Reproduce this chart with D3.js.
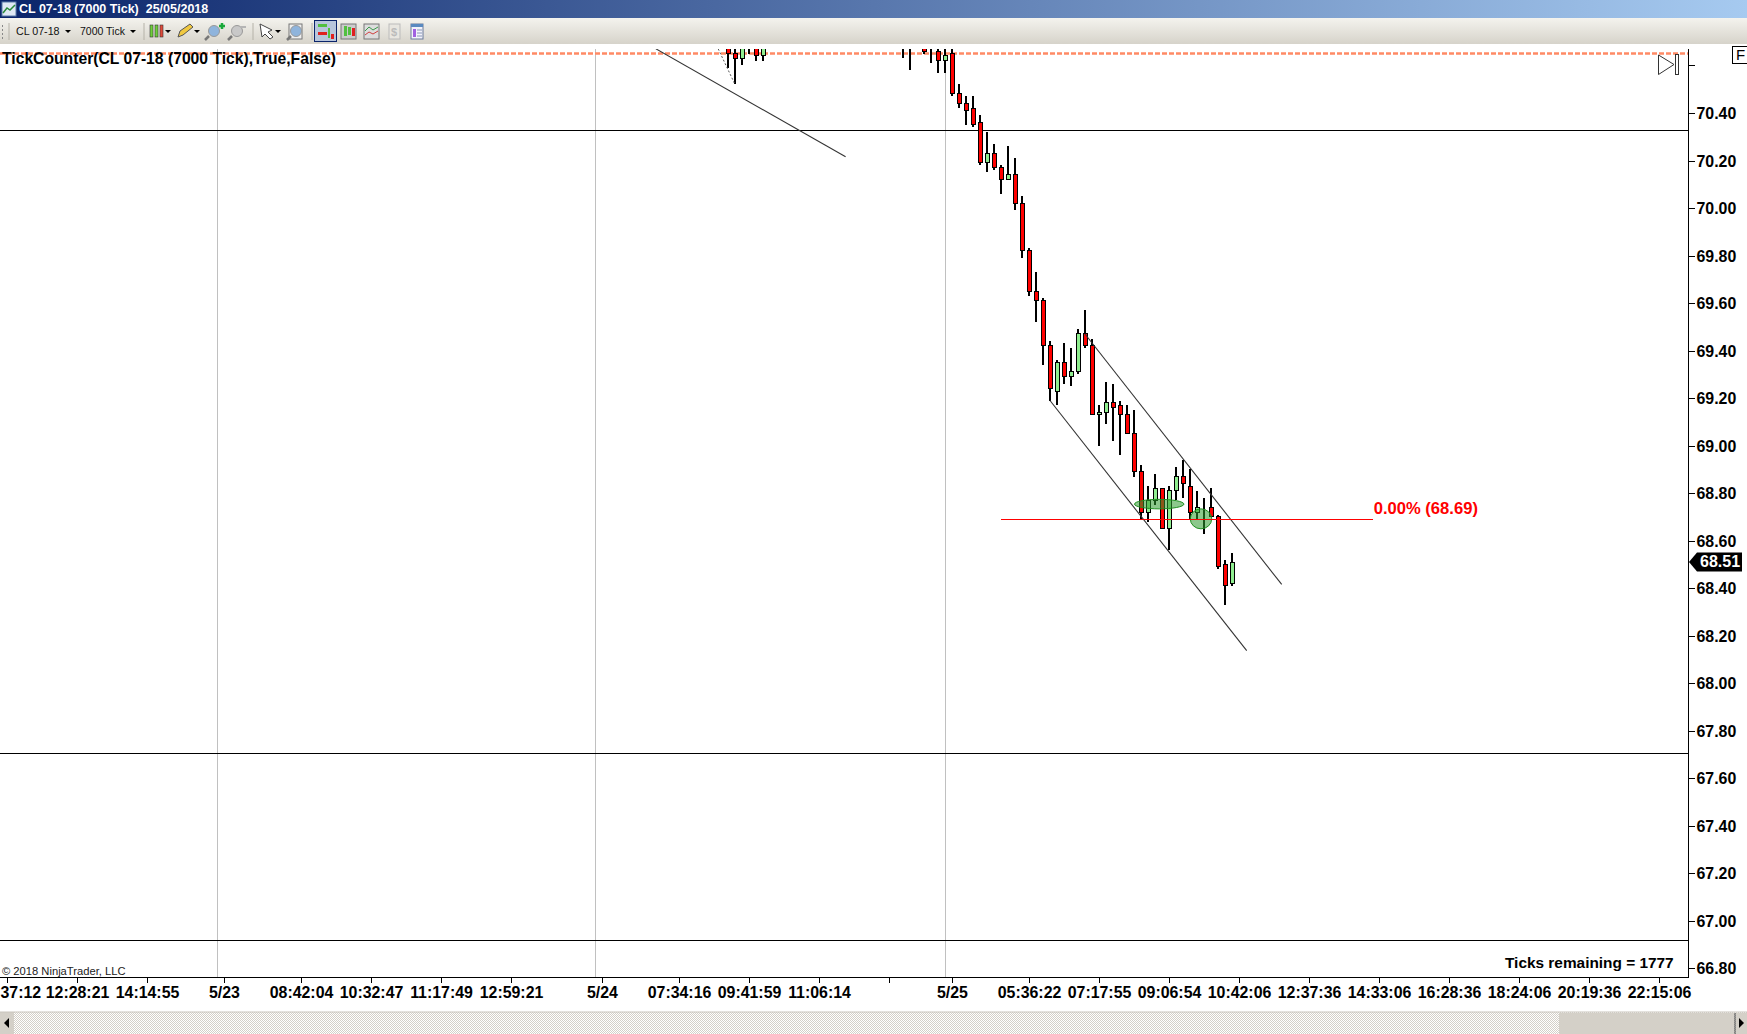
<!DOCTYPE html>
<html>
<head>
<meta charset="utf-8">
<title>CL 07-18 (7000 Tick)</title>
<script src="https://cdn.jsdelivr.net/npm/d3@7"></script>
<style>
  html, body { margin: 0; padding: 0; background: #fff; overflow: hidden; }
  svg { display: block; }
  text { font-family: "Liberation Sans", Arial, sans-serif; }
</style>
</head>
<body>
<svg id="chart" width="1747" height="1034"></svg>
<script>
// bar slot on the time axis, then o/h/l/c
const barSlots = [103,104,105,106,107,108,128,129,131,132,133,134,135,136,137,138,139,140,141,142,143,144,145,146,147,148,149,150,151,152,153,154,155,156,157,158,159,160,161,162,163,164,165,166,167,168,169,170,171,172,173,174,175];
const opens  = [70.69,70.65,70.63,70.71,70.69,70.64,70.72,70.71,70.69,70.66,70.66,70.62,70.65,70.48,70.44,70.42,70.36,70.19,70.23,70.17,70.12,70.14,70.02,69.82,69.65,69.61,69.42,69.23,69.35,69.29,69.31,69.47,69.42,69.13,69.14,69.18,69.17,69.13,69.05,68.89,68.72,68.77,68.82,68.65,68.81,68.87,68.83,68.72,68.74,68.74,68.70,68.50,68.42];
const highs  = [70.72,70.72,70.72,70.72,70.72,70.72,70.74,70.73,70.70,70.72,70.72,70.72,70.70,70.52,70.47,70.47,70.39,70.32,70.27,70.18,70.26,70.21,70.05,69.83,69.73,69.62,69.44,69.36,69.43,69.41,69.49,69.57,69.45,69.17,69.27,69.26,69.19,69.17,69.15,68.92,68.83,68.88,68.82,68.83,68.91,68.94,68.90,68.81,68.78,68.82,68.71,68.52,68.55];
const lows   = [70.59,70.52,70.60,70.65,70.62,70.62,70.63,70.58,70.65,70.61,70.57,70.57,70.47,70.42,70.35,70.34,70.18,70.15,70.16,70.06,70.12,69.99,69.79,69.63,69.52,69.34,69.19,69.17,69.26,69.25,69.30,69.41,69.13,69.00,69.09,69.02,68.96,69.05,68.87,68.69,68.68,68.75,68.65,68.56,68.77,68.78,68.69,68.69,68.63,68.70,68.48,68.33,68.41];
const closes = [70.65,70.63,70.70,70.70,70.64,70.69,70.71,70.70,70.66,70.66,70.62,70.64,70.48,70.44,70.41,70.35,70.19,70.23,70.17,70.12,70.14,70.02,69.82,69.65,69.61,69.42,69.24,69.35,69.29,69.31,69.47,69.42,69.13,69.14,69.18,69.16,69.13,69.05,68.89,68.72,68.77,68.82,68.65,68.81,68.87,68.84,68.72,68.74,68.74,68.70,68.49,68.41,68.51];

const priceTicks = [70.60,70.40,70.20,70.00,69.80,69.60,69.40,69.20,69.00,68.80,68.60,68.40,68.20,68.00,67.80,67.60,67.40,67.20,67.00,66.80];
const timeSlots  = [0,10,20,31,42,52,62,72,85,96,106,116,126,135,146,156,166,176,186,196,206,216,226,236];
const timeLabels = ["37:12","12:28:21","14:14:55","5/23","08:42:04","10:32:47","11:17:49","12:59:21","5/24","07:34:16","09:41:59","11:06:14","","5/25","05:36:22","07:17:55","09:06:54","10:42:06","12:37:36","14:33:06","16:28:36","18:24:06","20:19:36","22:15:06"];

const sessionSlots = [30.1,84,134];
const levelPrices = [70.325,67.705,66.917];
const stopLevel = 70.65;
const lastPrice = 68.51;
const fibPrice = 68.69;
const fibSlots = [142,195.1];
// [slot1, price1, slot2, price2]
const trendLines = [[92.7,70.67,119.8,70.216],[154,69.47,182.1,68.416],[149,69.19,177.1,68.137]];
const dottedLine = [101.6,70.67,104,70.52];
// [slot, price, radius in slots, radius in price]
const zones = [[164.6,68.754,3.53,0.02],[170.57,68.692,1.53,0.042]];

const plotTop = 49, plotBottom = 977, plotRight = 1688.5;

var svg = d3.select("#chart");
var defs = svg.append("defs");

var scX = d3.scaleLinear().domain([0,240]).range([7,1687]);
var scY = d3.scaleLinear().domain([70.40,66.80]).range([113,968.4]);

defs.append("clipPath").attr("id","plotClip").append("rect")
    .attr("x",0).attr("y",plotTop).attr("width",plotRight).attr("height",plotBottom-plotTop);

var titleGrad = defs.append("linearGradient").attr("id","titleGrad");
titleGrad.append("stop").attr("offset","0%").attr("stop-color","#0a246a");
titleGrad.append("stop").attr("offset","100%").attr("stop-color","#a6caf0");

var barGrad = defs.append("linearGradient").attr("id","barGrad").attr("x2",0).attr("y2",1);
barGrad.append("stop").attr("offset","0%").attr("stop-color","#f4f3ee");
barGrad.append("stop").attr("offset","100%").attr("stop-color","#d6d3ca");

var dither = defs.append("pattern").attr("id","dither").attr("width",2).attr("height",2)
    .attr("patternUnits","userSpaceOnUse");
dither.append("rect").attr("width",2).attr("height",2).attr("fill","#ffffff");
dither.append("rect").attr("width",1).attr("height",1).attr("fill","#d4d0c8");
dither.append("rect").attr("x",1).attr("y",1).attr("width",1).attr("height",1).attr("fill","#d4d0c8");

svg.append("rect").attr("width",1747).attr("height",1034).attr("fill","#fff");

// --- window chrome
makeChrome();
function makeChrome() {
    svg.append("rect").attr("width",1747).attr("height",18).attr("fill","url(#titleGrad)");
    svg.append("rect").attr("y",18).attr("width",1747).attr("height",26).attr("fill","url(#barGrad)");

    var ic = svg.append("g").attr("transform","translate(2,2)");
    ic.append("rect").attr("width",14).attr("height",14).attr("fill","#dfe8f4").attr("stroke","#5a7aa8");
    ic.append("path").attr("d","M1,11 L5,6 L8,8 L13,3").attr("fill","none").attr("stroke","#2a8a3a").attr("stroke-width",1.5);

    svg.append("text").attr("x",19).attr("y",13).attr("fill","#fff")
       .style("font-weight","bold").style("font-size","12.5px")
       .attr("xml:space","preserve").text("CL 07-18 (7000 Tick)  25/05/2018");

    svg.append("text").attr("x",16).attr("y",35).attr("fill","#111").style("font-size","10.7px").text("CL 07-18");
    svg.append("text").attr("x",80).attr("y",35).attr("fill","#111").style("font-size","10.5px").text("7000 Tick");

    var carets = [68,133,168,197,278];
    svg.selectAll("path.caret").data(carets).enter().append("path").attr("class","caret")
       .attr("d",d=>`M${d-3},30 h6 l-3,3 z`).attr("fill","#000");

    var seps = [9,144,253,312];
    svg.selectAll("line.sep").data(seps).enter().append("line").attr("class","sep")
       .attr("x1",d=>d).attr("x2",d=>d).attr("y1",23).attr("y2",40).attr("stroke","#b5b2a8");

    // grip
    svg.selectAll("rect.grip").data([25,29,33,37]).enter().append("rect").attr("class","grip")
       .attr("x",2).attr("y",d=>d).attr("width",1).attr("height",2).attr("fill","#888");

    // candle icon
    [[151.5,"#6ecf3a"],[156.5,"#6ecf3a"],[161.5,"#e04a3a"]].forEach(function(c) {
        svg.append("rect").attr("x",c[0]-1.5).attr("y",25).attr("width",3).attr("height",12)
           .attr("fill",c[1]).attr("stroke","#333").attr("stroke-width",0.6);
    });
    // pencil
    svg.append("path").attr("d","M178,37 L180,31 L190,24 L193,27 L183,35 Z").attr("fill","#f0c840").attr("stroke","#555");
    // magnifiers
    magnifier(214,31,"#8fb4dc"); magnifier(237,31,"#c8c8c8");
    svg.append("path").attr("d","M219,26 h6 M222,23 v6").attr("stroke","#1aa83a").attr("stroke-width",2.5);
    svg.append("path").attr("d","M240,27 h6").attr("stroke","#b5b5b5").attr("stroke-width",2);
    // arrow
    svg.append("path").attr("d","M260,24 L272,30 L268,32 L273,37 L270,39 L265,34 L262,37 Z").attr("fill","#fff").attr("stroke","#444");
    svg.append("rect").attr("x",289).attr("y",24).attr("width",13).attr("height",15).attr("fill","#eee").attr("stroke","#777");
    magnifier(296,31,"#8fb4dc");

    // active button and chart style buttons
    svg.append("rect").attr("x",314.5).attr("y",20.5).attr("width",22).attr("height",21).attr("fill","#b8c6dc").attr("stroke","#0a246a");
    svg.append("rect").attr("x",318).attr("y",24).attr("width",9).attr("height",3).attr("fill","#52c040");
    svg.append("rect").attr("x",318).attr("y",32).attr("width",9).attr("height",3).attr("fill","#e02020");
    svg.append("rect").attr("x",328).attr("y",28).attr("width",2).attr("height",10).attr("fill","#52c040");
    svg.append("rect").attr("x",331).attr("y",34).attr("width",3).attr("height",5).attr("fill","#e02020");

    svg.append("rect").attr("x",341).attr("y",24).attr("width",15).attr("height",15).attr("fill","#ccc").attr("stroke","#777");
    [[345,"#52c040",26,10],[349,"#52c040",27,8],[353,"#e02020",28,8]].forEach(function(c) {
        svg.append("rect").attr("x",c[0]-1).attr("y",c[2]).attr("width",3).attr("height",c[3]).attr("fill",c[1]);
    });
    svg.append("rect").attr("x",364).attr("y",24).attr("width",15).attr("height",15).attr("fill","#ddd").attr("stroke","#777");
    svg.append("path").attr("d","M365,31 L369,27 L373,30 L378,27").attr("fill","none").attr("stroke","#3a9a4a");
    svg.append("path").attr("d","M365,35 L369,32 L373,34 L378,31").attr("fill","none").attr("stroke","#d04040");
    svg.append("rect").attr("x",389).attr("y",24).attr("width",11).attr("height",15).attr("fill","#e8e6e0").attr("stroke","#bbb");
    svg.append("text").attr("x",391).attr("y",36).attr("fill","#bbb").style("font-size","11px").style("font-weight","bold").text("$");
    svg.append("rect").attr("x",411).attr("y",24).attr("width",12).attr("height",15).attr("fill","#f2f2fa").attr("stroke","#6a7a9a");
    svg.append("rect").attr("x",411).attr("y",24).attr("width",12).attr("height",3).attr("fill","#5a8ac0");
    svg.append("rect").attr("x",413).attr("y",29).attr("width",3).attr("height",8).attr("fill","#a060e0");
    svg.append("path").attr("d","M417,30 h5 M417,33 h5 M417,36 h5").attr("stroke","#8898b8");

    // scrollbar
    svg.append("rect").attr("y",1012).attr("width",1747).attr("height",22).attr("fill","url(#dither)");
    svg.append("rect").attr("y",1012).attr("width",14).attr("height",22).attr("fill","#d4d0c8");
    svg.append("rect").attr("x",1559).attr("y",1013).attr("width",175).attr("height",21).attr("fill","#d4d0c8");
    svg.append("rect").attr("x",1736).attr("y",1013).attr("width",11).attr("height",21).attr("fill","#d4d0c8");
    svg.append("line").attr("x1",1735).attr("x2",1735).attr("y1",1013).attr("y2",1034).attr("stroke","#333");
    svg.append("line").attr("x1",0).attr("x2",1747).attr("y1",1012).attr("y2",1012).attr("stroke","#c8c4bc");
    svg.append("path").attr("d","M4,1023 l5,-5 v10 z").attr("fill","#000");
    svg.append("path").attr("d","M1744,1023 l-5,-5 v10 z").attr("fill","#000");
}
function magnifier(x, y, col) {
    svg.append("line").attr("x1",x-5).attr("y1",y+5).attr("x2",x-9).attr("y2",y+9).attr("stroke","#777").attr("stroke-width",2.5);
    svg.append("circle").attr("cx",x).attr("cy",y).attr("r",5.5).attr("fill",col).attr("stroke","#999");
}

// --- grid and levels
svg.selectAll("line.session").data(sessionSlots).enter().append("line").attr("class","session")
   .attr("x1",d=>scX(d)).attr("x2",d=>scX(d)).attr("y1",plotTop).attr("y2",plotBottom)
   .attr("stroke","#c0c0c0").attr("shape-rendering","crispEdges");

var plot = svg.append("g").attr("clip-path","url(#plotClip)");

plot.append("line").attr("x1",0).attr("x2",plotRight).attr("y1",scY(stopLevel)).attr("y2",scY(stopLevel))
    .attr("stroke","#ff8a65").attr("stroke-width",2.5).attr("stroke-dasharray","5,2");

plot.selectAll("line.level").data(levelPrices).enter().append("line").attr("class","level")
    .attr("x1",0).attr("x2",plotRight).attr("y1",d=>scY(d)).attr("y2",d=>scY(d))
    .attr("stroke","#000").attr("shape-rendering","crispEdges");

// --- candles
var bars = d3.range(barSlots.length);
plot.selectAll("line.wick").data(bars).enter().append("line").attr("class","wick")
    .attr("x1",i=>scX(barSlots[i])).attr("x2",i=>scX(barSlots[i]))
    .attr("y1",i=>scY(highs[i])).attr("y2",i=>scY(lows[i]))
    .attr("stroke","#000").attr("stroke-width",2).attr("shape-rendering","crispEdges");

plot.selectAll("rect.body").data(bars).enter().append("rect").attr("class","body")
    .attr("x",i=>scX(barSlots[i])-1.5).attr("width",4)
    .attr("y",i=>scY(Math.max(opens[i],closes[i])))
    .attr("height",i=>Math.abs(scY(opens[i])-scY(closes[i])))
    .attr("fill",i=>closes[i]<opens[i] ? "#ff0000" : "#90ee90")
    .attr("stroke","#000").attr("shape-rendering","crispEdges");

// --- drawing objects
plot.selectAll("line.trend").data(trendLines).enter().append("line").attr("class","trend")
    .attr("x1",d=>scX(d[0])).attr("y1",d=>scY(d[1])).attr("x2",d=>scX(d[2])).attr("y2",d=>scY(d[3]))
    .attr("stroke","#333").attr("stroke-width",1.1);

plot.append("line")
    .attr("x1",scX(dottedLine[0])).attr("y1",scY(dottedLine[1])).attr("x2",scX(dottedLine[2])).attr("y2",scY(dottedLine[3]))
    .attr("stroke","#555").attr("stroke-dasharray","2,2");

plot.selectAll("ellipse").data(zones).enter().append("ellipse")
    .attr("cx",d=>scX(d[0])).attr("cy",d=>scY(d[1]))
    .attr("rx",d=>scX(d[2])-scX(0)).attr("ry",d=>scY(0)-scY(d[3]))
    .attr("fill","#2e9b2e").attr("fill-opacity",0.55).attr("stroke","#1f8f1f");

plot.append("line").attr("x1",scX(fibSlots[0])).attr("x2",scX(fibSlots[1])).attr("y1",scY(fibPrice)).attr("y2",scY(fibPrice))
    .attr("stroke","#ff0000").attr("shape-rendering","crispEdges");

svg.append("text").attr("x",scX(fibSlots[1])+1).attr("y",scY(fibPrice)-5).attr("fill","#ff0000")
   .style("font-weight","bold").style("font-size","16.6px").text("0.00% (" + fibPrice.toFixed(2) + ")");

// --- axes
var yAxis = d3.axisRight(scY).tickValues(priceTicks).tickSize(6).tickPadding(2)
    .tickFormat(d=>d===70.60 ? "" : d.toFixed(2));
var gy = svg.append("g").attr("transform",`translate(${plotRight},0)`).call(yAxis);
gy.select(".domain").remove();
gy.selectAll("text").attr("y",0.5);

var xAxis = d3.axisBottom(scX).tickValues(timeSlots).tickSize(6).tickPadding(4)
    .tickFormat((d,i)=>timeLabels[i]);
var gx = svg.append("g").attr("transform",`translate(0,${plotBottom})`).call(xAxis);
gx.select(".domain").remove();

[gy,gx].forEach(function(g) {
    g.selectAll("text").attr("fill","#000").style("font-family",'"Liberation Sans", Arial, sans-serif')
     .style("font-weight","bold").style("font-size","15.9px");
    g.selectAll("line").attr("shape-rendering","crispEdges");
});
// the first label sits against the window edge
gx.select(".tick text").attr("text-anchor","start").attr("x",-7);

svg.append("line").attr("x1",plotRight).attr("x2",plotRight).attr("y1",plotTop).attr("y2",plotBottom)
   .attr("stroke","#000").attr("shape-rendering","crispEdges");
svg.append("line").attr("x1",0).attr("x2",plotRight).attr("y1",plotBottom).attr("y2",plotBottom)
   .attr("stroke","#000").attr("shape-rendering","crispEdges");

// --- last price marker
var ly = scY(lastPrice);
svg.append("path").attr("d",`M1689,${ly} L1697,${ly-9.5} H1742 V${ly+9.5} H1697 Z`).attr("fill","#000");
svg.append("text").attr("x",1700).attr("y",ly+5).attr("fill","#fff")
   .style("font-weight","bold").style("font-size","16px").text(lastPrice.toFixed(2));

// --- labels
svg.append("text").attr("x",2).attr("y",64).attr("fill","#000")
   .style("font-weight","bold").style("font-size","15.7px").text("TickCounter(CL 07-18 (7000 Tick),True,False)");
svg.append("text").attr("x",1505).attr("y",967.5).attr("fill","#000")
   .style("font-weight","bold").style("font-size","15.4px").text("Ticks remaining = 1777");
svg.append("text").attr("x",2).attr("y",975).attr("fill","#222")
   .style("font-size","11.2px").text("\u00a9 2018 NinjaTrader, LLC");

// play marker and F box
svg.append("path").attr("d","M1658.5,55 L1674,64.5 L1658.5,74.5 Z").attr("fill","#fff").attr("stroke","#333");
svg.append("rect").attr("x",1675.5).attr("y",54.5).attr("width",3).attr("height",20).attr("fill","#fff").attr("stroke","#333");
svg.append("rect").attr("x",1732.5).attr("y",46.5).attr("width",16).attr("height",17).attr("fill","#fff").attr("stroke","#000");
svg.append("text").attr("x",1736).attr("y",60).attr("fill","#000").style("font-size","15px").text("F");
</script>
</body>
</html>
